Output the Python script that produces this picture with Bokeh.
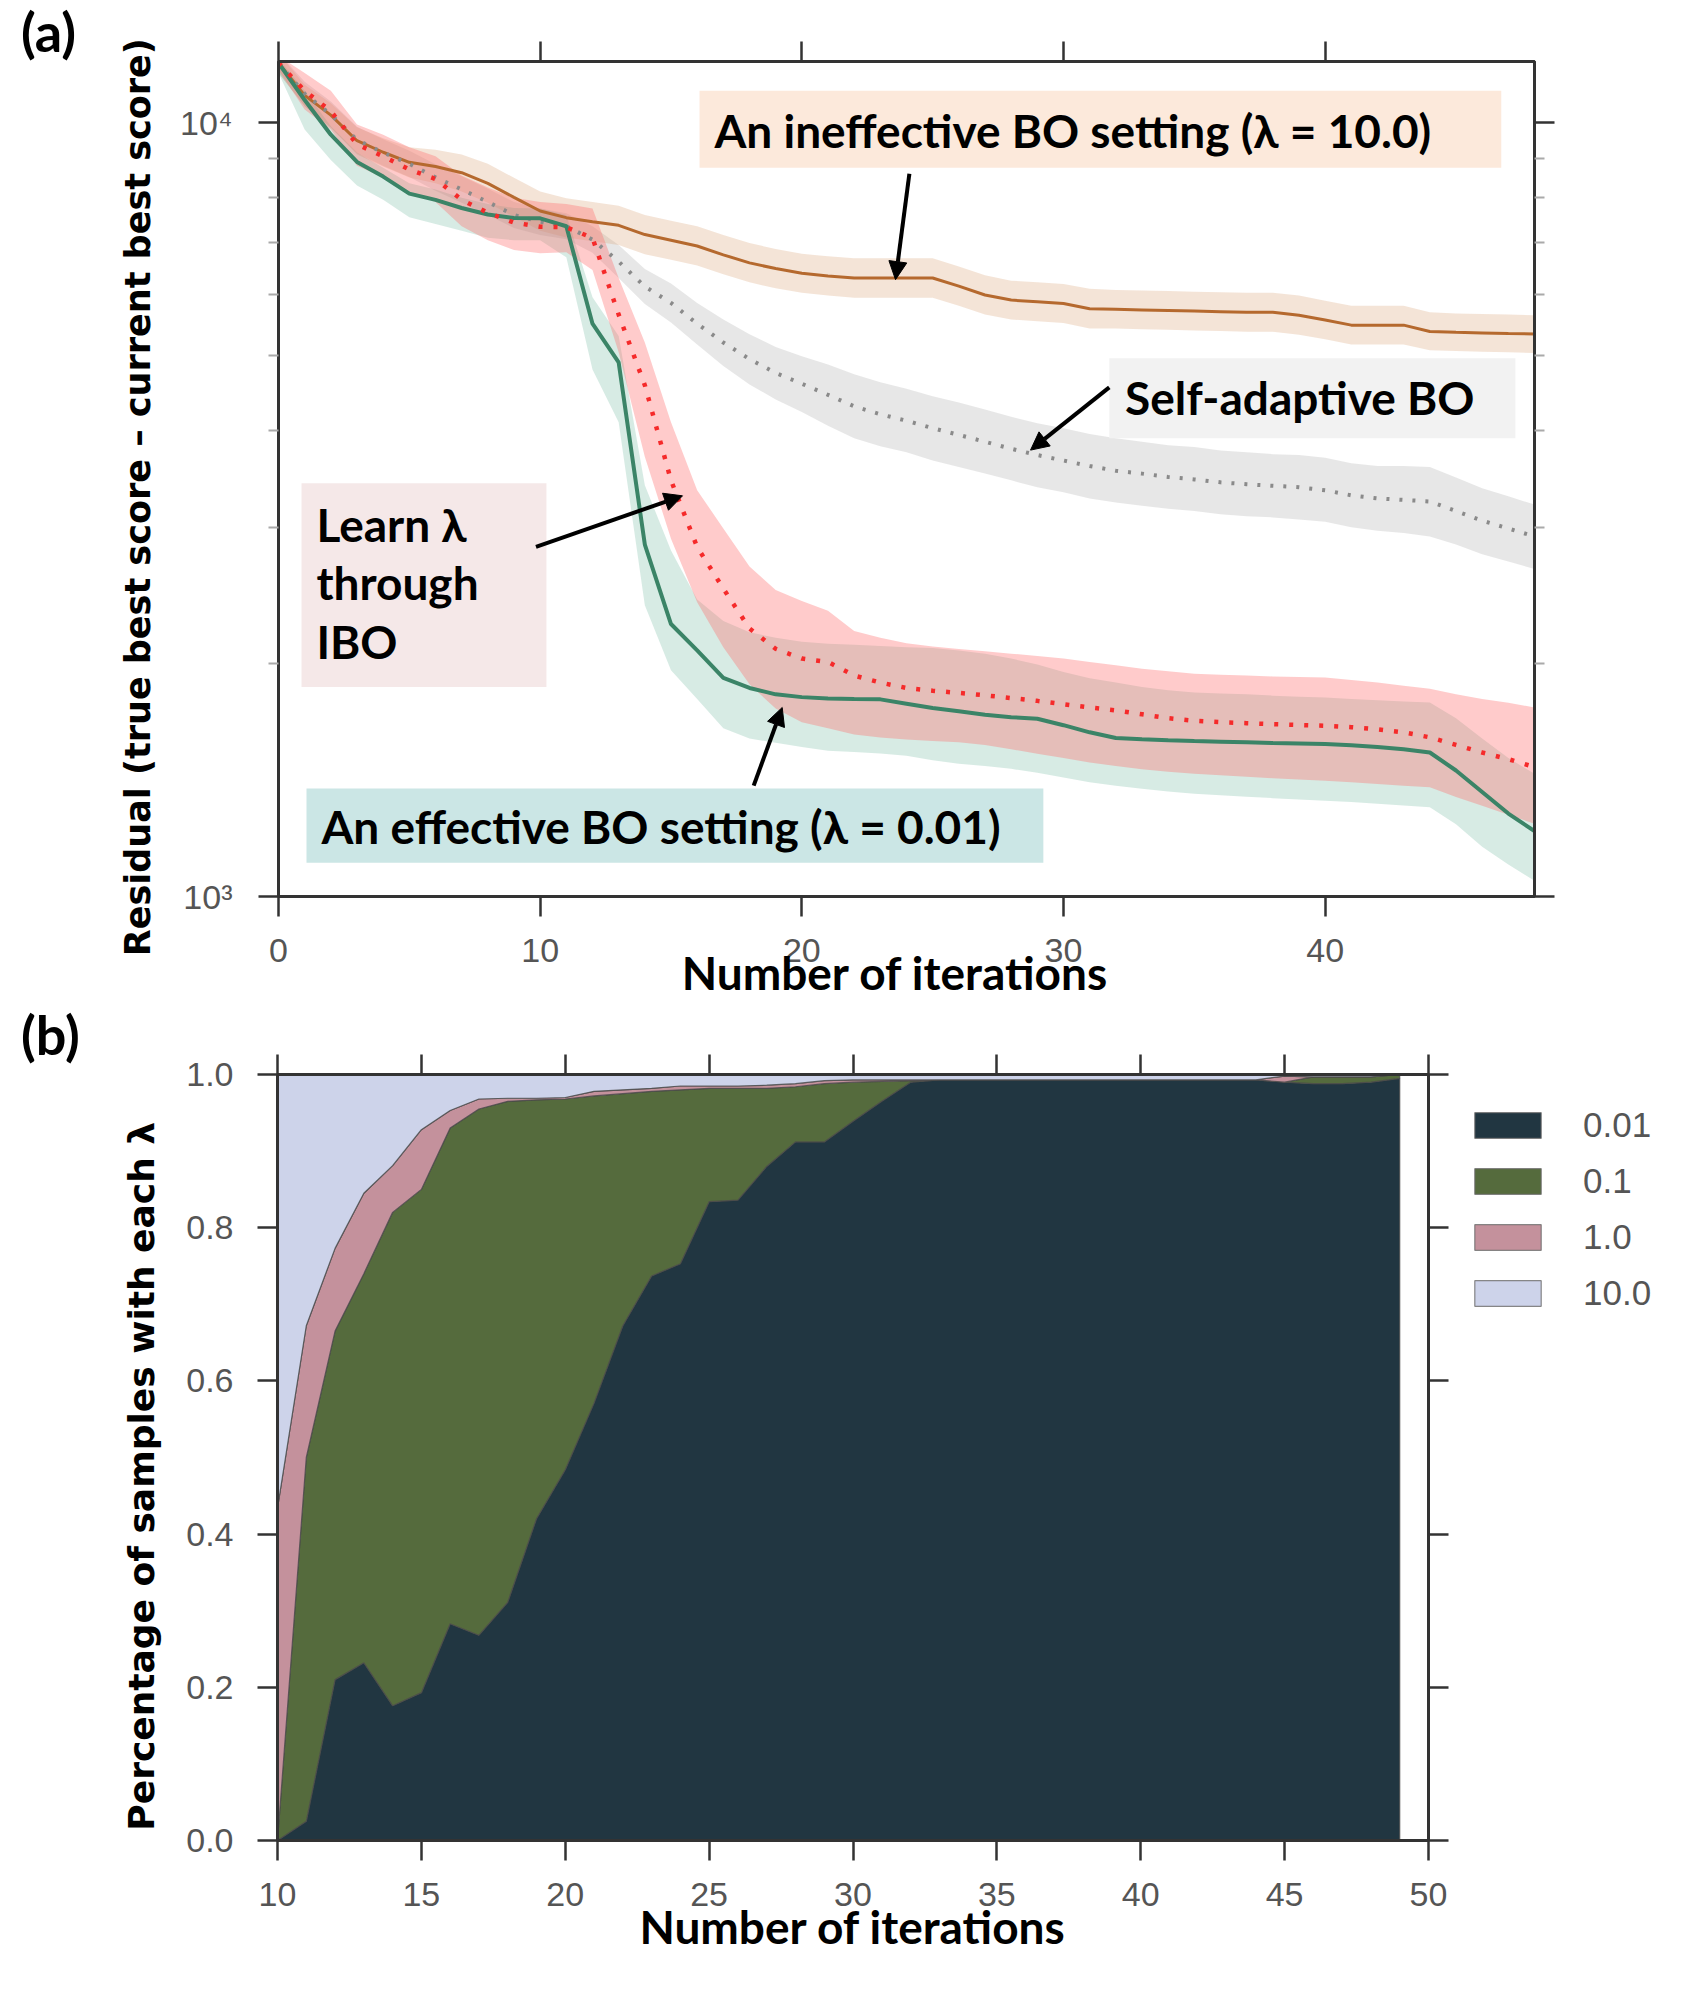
import numpy as np
from bokeh.plotting import figure
from bokeh.models import (Range1d, LinearAxis, LogAxis, FixedTicker, Label, BoxAnnotation,
                          Arrow, NormalHead, Legend, LegendItem, PrintfTickFormatter, Div)
from bokeh.embed import file_html
from bokeh.resources import INLINE

# ---------------- panel (a) data ----------------
iters_a = list(range(49))

brown = [11950, 10850, 10230, 9480, 9160, 8890, 8780, 8620, 8350, 8010,
         7690, 7540, 7450, 7370, 7170, 7050, 6930, 6750, 6590, 6480,
         6390, 6340, 6300, 6300, 6300, 6300, 6150, 5990, 5900, 5870,
         5840, 5750, 5740, 5730, 5720, 5710, 5700, 5690, 5690, 5640,
         5560, 5476, 5476, 5476, 5374, 5360, 5350, 5340, 5333]
brown_lo = [11600, 10500, 9850, 9100, 8780, 8500, 8350, 8150, 7880, 7560,
            7250, 7110, 7030, 6950, 6760, 6650, 6540, 6370, 6220, 6110,
            6030, 5980, 5940, 5940, 5940, 5940, 5800, 5650, 5570, 5540,
            5510, 5420, 5420, 5410, 5400, 5390, 5380, 5370, 5370, 5320,
            5250, 5170, 5170, 5170, 5080, 5070, 5060, 5050, 5040]
brown_hi = [12300, 11200, 10600, 9870, 9550, 9300, 9230, 9100, 8850, 8490,
            8150, 7990, 7900, 7810, 7600, 7470, 7350, 7160, 6990, 6870,
            6770, 6720, 6680, 6680, 6680, 6680, 6520, 6350, 6250, 6220,
            6190, 6100, 6080, 6070, 6060, 6050, 6040, 6030, 6030, 5980,
            5890, 5800, 5800, 5800, 5690, 5670, 5660, 5650, 5640]

gray = [11950, 10900, 10250, 9500, 9150, 8850, 8500, 8200, 7900, 7600,
        7450, 7350, 7063, 6616, 6143, 5850, 5500, 5200, 4950, 4750,
        4600, 4450, 4300, 4200, 4120, 4030, 3950, 3870, 3790, 3720,
        3660, 3600, 3550, 3520, 3485, 3460, 3430, 3410, 3395, 3380,
        3350, 3300, 3270, 3255, 3240, 3150, 3060, 2990, 2920]
gray_lo = [11600, 10500, 9850, 9130, 8800, 8510, 8170, 7880, 7600, 7310,
           7160, 7070, 6790, 6300, 5830, 5520, 5170, 4850, 4590, 4390,
           4230, 4060, 3910, 3820, 3750, 3660, 3590, 3520, 3450, 3380,
           3330, 3270, 3230, 3200, 3170, 3150, 3120, 3100, 3090, 3070,
           3050, 3000, 2970, 2950, 2920, 2850, 2770, 2710, 2650]
gray_hi = [12300, 11300, 10650, 9880, 9520, 9200, 8840, 8530, 8220, 7900,
           7750, 7640, 7350, 6950, 6470, 6200, 5850, 5570, 5330, 5130,
           4990, 4870, 4730, 4620, 4530, 4430, 4350, 4260, 4170, 4090,
           4030, 3960, 3910, 3870, 3830, 3810, 3770, 3750, 3730, 3720,
           3690, 3630, 3600, 3600, 3590, 3480, 3370, 3290, 3210]

green = [11950, 10700, 9650, 8900, 8520, 8100, 7950, 7760, 7610, 7530,
         7525, 7350, 5500, 4900, 2850, 2250, 2080, 1917, 1860, 1825,
         1810, 1803, 1800, 1798, 1775, 1752, 1735, 1718, 1705, 1697,
         1665, 1630, 1603, 1597, 1592, 1588, 1585, 1582, 1579, 1577,
         1574, 1568, 1560, 1550, 1535, 1455, 1365, 1280, 1215]
green_lo = [11600, 9800, 8950, 8300, 7950, 7550, 7400, 7250, 7100, 7050,
            7050, 6700, 4800, 4100, 2380, 1960, 1800, 1650, 1600, 1580,
            1560, 1543, 1537, 1531, 1520, 1500, 1484, 1475, 1462, 1445,
            1425, 1405, 1390, 1378, 1367, 1358, 1352, 1346, 1340, 1335,
            1330, 1325, 1318, 1311, 1304, 1240, 1160, 1100, 1048]
green_hi = [12100, 11000, 9900, 9150, 8750, 8350, 8200, 8000, 7850, 7760,
            7750, 7600, 5950, 5300, 3400, 2800, 2420, 2270, 2195, 2160,
            2135, 2121, 2115, 2108, 2100, 2095, 2080, 2060, 2030, 1995,
            1950, 1915, 1890, 1865, 1848, 1835, 1830, 1825, 1818, 1812,
            1808, 1800, 1793, 1787, 1781, 1700, 1600, 1510, 1441]

red = [11950, 11000, 10350, 9380, 9050, 8700, 8460, 7950, 7650, 7430,
       7340, 7326, 7100, 5650, 4580, 3450, 2830, 2500, 2220, 2090,
       2030, 2010, 1930, 1890, 1860, 1845, 1833, 1820, 1805, 1790,
       1772, 1755, 1740, 1720, 1700, 1687, 1680, 1675, 1670, 1666,
       1662, 1655, 1645, 1630, 1606, 1570, 1535, 1505, 1470]
red_lo = [11700, 10400, 9800, 8800, 8500, 8150, 7900, 7350, 7050, 6850,
          6780, 6800, 6450, 5050, 3700, 2900, 2400, 2100, 1880, 1750,
          1680, 1650, 1620, 1605, 1595, 1588, 1582, 1570, 1550, 1529,
          1510, 1490, 1475, 1460, 1450, 1441, 1435, 1428, 1422, 1416,
          1411, 1405, 1398, 1390, 1384, 1345, 1310, 1275, 1242]
red_hi = [12200, 11600, 11000, 9950, 9650, 9300, 9050, 8550, 8250, 8000,
          7900, 7850, 7750, 6300, 5200, 4100, 3350, 2990, 2670, 2490,
          2410, 2340, 2204, 2160, 2125, 2105, 2089, 2075, 2060, 2046,
          2030, 2010, 1990, 1970, 1955, 1940, 1935, 1930, 1925, 1922,
          1919, 1905, 1890, 1872, 1855, 1825, 1800, 1780, 1755]

xticks_a = [0, 10, 20, 30, 40]
yticks_a = [1000, 10000]
yminor_a = [2000, 3000, 4000, 5000, 6000, 7000, 8000, 9000]
ylabels_a = {1000: "10\u00b3", 10000: "10\u2074"}

# ---------------- panel (b) data ----------------
iters_b = list(range(10, 50))
lambdas = ["0.01", "0.1", "1.0", "10.0"]
share_001 = [0.0, 0.025, 0.21, 0.232, 0.176, 0.193, 0.283, 0.268, 0.311, 0.42,
             0.484, 0.571, 0.672, 0.737, 0.753, 0.834, 0.836, 0.88, 0.912, 0.912,
             0.939, 0.965, 0.99, 0.993, 0.993, 0.993, 0.993, 0.993, 0.993, 0.993,
             0.993, 0.993, 0.993, 0.993, 0.993, 0.99, 0.988, 0.988, 0.99, 0.995]
share_01 = [0.0, 0.475, 0.455, 0.508, 0.644, 0.657, 0.647, 0.687, 0.654, 0.547,
            0.484, 0.401, 0.303, 0.241, 0.227, 0.148, 0.146, 0.102, 0.072, 0.076,
            0.051, 0.026, 0.002, 0, 0, 0, 0, 0, 0, 0,
            0, 0, 0, 0, 0, 0, 0.009, 0.009, 0.007, 0.005]
share_1 = [0.434, 0.172, 0.108, 0.105, 0.061, 0.078, 0.023, 0.013, 0.004, 0.002,
           0.002, 0.006, 0.005, 0.004, 0.005, 0.003, 0.003, 0.004, 0.004, 0.004,
           0.003, 0.002, 0.001, 0, 0, 0, 0, 0, 0, 0,
           0, 0, 0, 0, 0, 0.008, 0, 0, 0, 0]
share_10 = [0.566, 0.328, 0.227, 0.155, 0.119, 0.072, 0.047, 0.032, 0.031, 0.031,
            0.03, 0.022, 0.02, 0.018, 0.015, 0.015, 0.015, 0.014, 0.012, 0.008,
            0.007, 0.007, 0.007, 0.007, 0.007, 0.007, 0.007, 0.007, 0.007, 0.007,
            0.007, 0.007, 0.007, 0.007, 0.007, 0.002, 0.003, 0.003, 0.003, 0.0]
xticks_b = [10, 15, 20, 25, 30, 35, 40, 45, 50]
yticks_b = [0.0, 0.2, 0.4, 0.6, 0.8, 1.0]
colors_b = ["#213641", "#556b3d", "#c4919c", "#cdd3ea"]

# ---------------- styling helpers ----------------
AX = "#333333"
TICK_FONT = "Liberation Sans"
TICK_COLOR = "#555555"
BOLD = "Lato"
NB = "\u00a0"


def style_axis(ax, show_labels=True, minor=0):
    ax.axis_line_color = AX
    ax.axis_line_width = 3
    ax.major_tick_line_color = AX
    ax.major_tick_line_width = 2.5
    ax.major_tick_out = 20
    ax.major_tick_in = 0
    ax.minor_tick_out = minor
    ax.minor_tick_in = 0
    ax.minor_tick_line_color = "#aaaaaa"
    ax.minor_tick_line_width = 2
    ax.major_label_text_font = TICK_FONT
    if show_labels:
        ax.major_label_text_font_size = "34px"
        ax.major_label_text_color = TICK_COLOR
    else:
        ax.major_label_text_font_size = "1px"
        ax.major_label_text_color = None
        ax.major_label_standoff = 0


def set_title(ax, text, size, font, standoff):
    ax.axis_label = text
    ax.axis_label_text_font = font
    ax.axis_label_text_font_size = size
    ax.axis_label_text_font_style = "bold"
    ax.axis_label_text_color = "black"
    ax.axis_label_standoff = standoff


def add_text(p, text, x, y, size="46px"):
    p.add_layout(Label(x=x, y=y, text=text, text_font=BOLD, text_font_size=size,
                       text_font_style="bold", text_color="black",
                       text_align="left", text_baseline="middle"))


W = 1696

# ---------------- panel (a) ----------------
pa = figure(width=W, height=1016, x_range=Range1d(0, 48), y_range=Range1d(1000, 12000),
            y_axis_type="log", output_backend="svg", toolbar_location=None,
            min_border_left=278, min_border_right=162, min_border_top=61, min_border_bottom=120)
pa.xgrid.visible = False
pa.ygrid.visible = False
pa.outline_line_color = AX
pa.outline_line_width = 3

xa = pa.xaxis[0]
xa.ticker = FixedTicker(ticks=xticks_a)
style_axis(xa)
xa.major_label_standoff = 22
set_title(xa, "Number of iterations" + NB * 2, "46px", BOLD, -20)

ya = pa.yaxis[0]
ya.ticker = FixedTicker(ticks=yticks_a, minor_ticks=yminor_a)
ya.major_label_overrides = ylabels_a
style_axis(ya, minor=10)
ya.major_label_standoff = 26
set_title(ya, "Residual (true best score \u2013 current best score)" + NB * 3,
          "35px", "DejaVu Sans", 19)

top_a = LinearAxis(ticker=FixedTicker(ticks=xticks_a))
style_axis(top_a, show_labels=False)
pa.add_layout(top_a, "above")
right_a = LogAxis(ticker=FixedTicker(ticks=yticks_a, minor_ticks=yminor_a))
style_axis(right_a, show_labels=False, minor=10)
pa.add_layout(right_a, "right")

# bands
pa.varea(x=iters_a, y1=gray_lo, y2=gray_hi, fill_color="#b0b0b0", fill_alpha=0.3)
pa.varea(x=iters_a, y1=brown_lo, y2=brown_hi, fill_color="#d9a47a", fill_alpha=0.3)
pa.varea(x=iters_a, y1=green_lo, y2=green_hi, fill_color="#5fae95", fill_alpha=0.25)
pa.varea(x=iters_a, y1=red_lo, y2=red_hi, fill_color="#ff6b6b", fill_alpha=0.35)
# lines
pa.line(iters_a, brown, line_color="#b5692e", line_width=3)
pa.line(iters_a, gray, line_color="#8a8a8a", line_width=4, line_dash="3 10")
pa.line(iters_a, green, line_color="#3b8467", line_width=4)
pa.line(iters_a, red, line_color="#f52a2a", line_width=4.5, line_dash="4 11")

# annotation boxes
pa.add_layout(BoxAnnotation(left=16.09, right=46.73, bottom=8750, top=11000,
                            fill_color="#fce9db", fill_alpha=1, line_color=None))
pa.add_layout(BoxAnnotation(left=31.75, right=47.27, bottom=3910, top=4961,
                            fill_color="#f2f2f2", fill_alpha=1, line_color=None))
pa.add_layout(BoxAnnotation(left=0.88, right=10.24, bottom=1866, top=3421,
                            fill_color="#f5e8e8", fill_alpha=1, line_color=None))
pa.add_layout(BoxAnnotation(left=1.07, right=29.23, bottom=1106, top=1379,
                            fill_color="#cbe6e5", fill_alpha=1, line_color=None))

add_text(pa, "An ineffective BO setting (\u03bb = 10.0)", 16.66, 9766)
add_text(pa, "Self-adaptive BO", 32.35, 4411)
add_text(pa, "Learn \u03bb", 1.45, 3029)
add_text(pa, "through", 1.45, 2547)
add_text(pa, "IBO", 1.45, 2133)
add_text(pa, "An effective BO setting (\u03bb = 0.01)", 1.64, 1231)

for (xs, ys, xe, ye) in [(24.11, 8590, 23.58, 6270),
                         (31.75, 4550, 28.74, 3775),
                         (9.84, 2831, 15.44, 3295),
                         (18.16, 1391, 19.25, 1755)]:
    pa.add_layout(Arrow(end=NormalHead(size=18, fill_color="black", line_color="black"),
                        x_start=xs, y_start=ys, x_end=xe, y_end=ye,
                        line_color="black", line_width=4))

# ---------------- panel (b) ----------------
pb = figure(width=W, height=977, x_range=Range1d(10, 50), y_range=Range1d(0, 1),
            output_backend="svg", toolbar_location=None,
            min_border_left=277, min_border_right=268, min_border_top=58, min_border_bottom=153)
pb.xgrid.visible = False
pb.ygrid.visible = False
pb.outline_line_color = AX
pb.outline_line_width = 3

bx = pb.xaxis[0]
bx.ticker = FixedTicker(ticks=xticks_b)
style_axis(bx)
bx.major_label_standoff = 22
set_title(bx, "Number of iterations", "46px", BOLD, -10)

by = pb.yaxis[0]
by.ticker = FixedTicker(ticks=yticks_b)
by.formatter = PrintfTickFormatter(format="%.1f")
style_axis(by)
by.major_label_standoff = 24
set_title(by, "Percentage of samples with each \u03bb" + NB * 3, "36px", "DejaVu Sans", 21)

top_b = LinearAxis(ticker=FixedTicker(ticks=xticks_b))
style_axis(top_b, show_labels=False)
pb.add_layout(top_b, "above")
right_b = LinearAxis(ticker=FixedTicker(ticks=yticks_b))
style_axis(right_b, show_labels=False)
pb.add_layout(right_b, "right")

shares = np.array([share_001, share_01, share_1, share_10])
cum = np.cumsum(shares, axis=0)
bottoms = np.vstack([np.zeros(len(iters_b)), cum[:-1]])
xb = np.array(iters_b, dtype=float)
for k in range(4):
    xs = np.concatenate([xb, xb[::-1]])
    ys = np.concatenate([cum[k], bottoms[k][::-1]])
    pb.patch(xs, ys, fill_color=colors_b[k], line_color="#4a4a4a", line_width=1.2,
             line_alpha=0.8)

# legend of panel (b), in a small canvas placed right of the axes box
lf = figure(width=240, height=220, x_range=Range1d(0, 1), y_range=Range1d(0, 1),
            output_backend="svg", toolbar_location=None, min_border=0,
            x_axis_type=None, y_axis_type=None, outline_line_color=None,
            background_fill_alpha=0, border_fill_alpha=0,
            styles={"position": "absolute", "left": "1456px", "top": "1095px"})
lf.xgrid.visible = False
lf.ygrid.visible = False
items = []
for k in range(4):
    # legend swatch proxies, placed outside the (hidden) visible range
    r = lf.quad(left=[5], right=[6], bottom=[5], top=[6], fill_color=colors_b[k],
                line_color="#6a6a6a", line_width=1.2, line_alpha=0.8)
    items.append(LegendItem(label=lambdas[k], renderers=[r]))
leg = Legend(items=items, location="top_left", glyph_width=83, glyph_height=32,
             label_standoff=34, spacing=16, padding=0, margin=10,
             border_line_color=None, background_fill_alpha=0,
             label_text_font=TICK_FONT, label_text_font_size="35px",
             label_text_color=TICK_COLOR)
lf.add_layout(leg)

# panel tags "(a)" / "(b)"
tag_style = "font-family: Lato; font-weight: bold; font-size: 54px; line-height: 1; color: black;"
div_a = Div(text='<span style="%s">(a)</span>' % tag_style,
            styles={"position": "absolute", "left": "16px", "top": "0px"})
div_b = Div(text='<span style="%s">(b)</span>' % tag_style,
            styles={"position": "absolute", "left": "16px", "top": "1003px"})

open("out.html", "w").write(file_html([pa, pb, lf, div_a, div_b], INLINE))
